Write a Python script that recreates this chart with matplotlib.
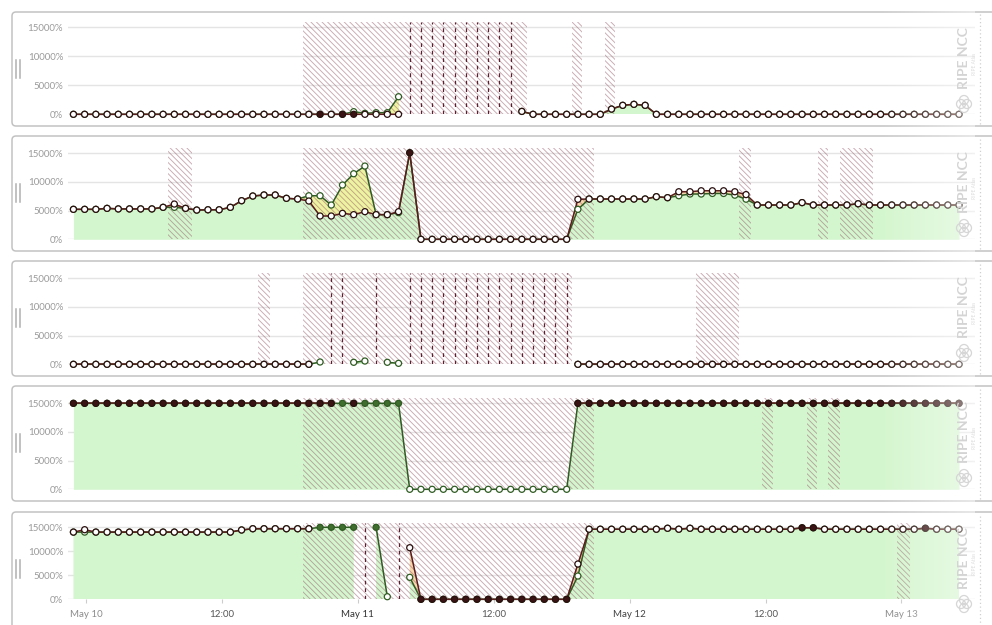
import numpy as np
import matplotlib.pyplot as plt
from matplotlib.patches import FancyBboxPatch, Circle
from matplotlib.lines import Line2D
from matplotlib.transforms import IdentityTransform

plt.rcParams['font.family'] = ['Lato', 'DejaVu Sans']
plt.rcParams['hatch.linewidth'] = 0.65

N = None

# measurement slots -1 .. 78, one sample every ~59.4 min (hours after May 10 00:00)
slots = np.arange(-1, 79)
slot_start_h = -0.13
slot_step_h = 0.99

tick_hours = [0, 12, 24, 36, 48, 60, 72]
tick_labels = ['May 10', '12:00', 'May 11', '12:00', 'May 12', '12:00', 'May 13']
tick_colors = ['#8c8c8c', '#555555', '#333333', '#555555', '#444444', '#555555', '#888888']

y_ticks = [0, 5000, 10000, 15000]

# ---- panel 1
p1_maroon = [0, 0, 0, 0, 0, 0, 0, 0, 0, 0, 0, 0, 0, 0, 0, 0, 0, 0, 0, 0,
             0, 0, 0, 0, 0, 0, 0, 0, 0, 0,
             N, N, N, N, N, N, N, N, N, N,
             500, 0, 0, 0, 0, 0, 0, 0, 900, 1550, 1720, 1550,
             0, 0, 0, 0, 0, 0, 0, 0, 0, 0, 0, 0, 0, 0, 0, 0, 0, 0, 0, 0,
             0, 0, 0, 0, 0, 0, 0, 0]
p1_green = [0, 0, 0, 0, 0, 0, 0, 0, 0, 0, 0, 0, 0, 0, 0, 0, 0, 0, 0, 0,
            0, 0, 0, 0, 0, 450, 170, 280, 280, 3030,
            N, N, N, N, N, N, N, N, N, N,
            500, 0, 0, 0, 0, 0, 0, 0, 900, 1550, 1720, 1550,
            0, 0, 0, 0, 0, 0, 0, 0, 0, 0, 0, 0, 0, 0, 0, 0, 0, 0, 0, 0,
            0, 0, 0, 0, 0, 0, 0, 0]
p1_dark = [21, 23, 24]
p1_green_dark = []
p1_hatch = [(19.5, 39.5), (43.5, 44.4), (46.4, 47.3)]

# ---- panel 2
p2_maroon = [5230, 5230, 5230, 5400, 5300, 5300, 5300, 5300,
             5580, 6150, 5400, 5100, 5150, 5150, 5580, 6730, 7550, 7730, 7730, 7150, 7030,
             6680, 4065, 4065, 4530, 4300, 4820, 4300, 4300, 4820, 15100,
             0, 0, 0, 0, 0, 0, 0, 0, 0, 0, 0, 0, 0, 0,
             6980, 7030, 7030, 7030, 7030, 7030, 7030, 7430, 7260, 8300, 8300, 8470, 8470, 8470, 8300, 7800,
             5980, 5980, 5980, 5980, 6400, 5980, 5980, 5980, 5980, 6200, 5980, 5980, 5980, 5980, 5980,
             5980, 5980, 5980, 5980]
p2_green = [5230, 5230, 5230, 5400, 5300, 5300, 5300, 5300,
            5580, 5580, 5400, 5100, 5150, 5150, 5580, 6730, 7550, 7730, 7730, 7150, 7030,
            7600, 7600, 5980, 9470, 11440, 12780, 4300, 4300, 4650, 15100,
            0, 0, 0, 0, 0, 0, 0, 0, 0, 0, 0, 0, 0, 0,
            5230, 7030, 7030, 7030, 7030, 7030, 7030, 7430, 7260, 7600, 7900, 7900, 8000, 8000, 7700, 7000,
            5980, 5980, 5980, 5980, 6400, 5980, 5980, 5980, 5980, 6200, 5980, 5980, 5980, 5980, 5980,
            5980, 5980, 5980, 5980]
p2_dark = [29]
p2_green_dark = []
p2_hatch = [(7.45, 9.6), (19.5, 45.4), (58.4, 59.4), (65.4, 66.3), (67.4, 70.3)]

# ---- panel 3
p3_maroon = [0, 0, 0, 0, 0, 0, 0, 0, 0, 0, 0, 0, 0, 0, 0, 0, 0, 0, 0, 0, 0, 0,
             N, N, N, N, N, N, N, N, N, N, N, N, N, N, N, N, N, N, N, N, N, N, N,
             0, 0, 0, 0, 0, 0, 0, 0, 0, 0, 0, 0, 0, 0, 0, 0, 0, 0, 0, 0,
             0, 0, 0, 0, 0, 0, 0, 0, 0, 0, 0, 0, 0, 0, 0]
p3_green = [0, 0, 0, 0, 0, 0, 0, 0, 0, 0, 0, 0, 0, 0, 0, 0, 0, 0, 0, 0, 0, 0,
            400, N, N, 350, 570, N, 350, 170,
            N, N, N, N, N, N, N, N, N, N, N, N, N, N, N,
            0, 0, 0, 0, 0, 0, 0, 0, 0, 0, 0, 0, 0, 0, 0, 0, 0, 0, 0, 0,
            0, 0, 0, 0, 0, 0, 0, 0, 0, 0, 0, 0, 0, 0, 0]
p3_dark = []
p3_green_dark = []
p3_hatch = [(15.5, 16.5), (19.5, 43.5), (54.5, 58.4)]

# ---- panel 4
p4_maroon = [15000] * 24 + [N, 15000, N, N, N, N] + [N] * 15 + [15000] * 35
p4_green = [15000] * 30 + [0] * 15 + [15000] * 35
p4_dark = list(range(-1, 79))
p4_green_dark = list(range(-1, 29)) + list(range(44, 79))
p4_hatch = [(19.5, 45.4), (60.4, 61.4), (64.4, 65.3), (66.3, 67.4)]

# ---- panel 5
p5_maroon = [14000, 14500, 14000, 14000, 14000, 14000, 14000, 14000, 14000, 14000, 14000, 14000, 14000,
             14000, 14000, 14440, 14700, 14700, 14700, 14700, 14700, 14700,
             N, N, N, N, N, N, N, N,
             10750, 0, 0, 0, 0, 0, 0, 0, 0, 0, 0, 0, 0, 0, 0,
             7350, 14600, 14600, 14600, 14600, 14600, 14600, 14600, 14800, 14600, 14800,
             14600, 14600, 14600, 14600, 14600, 14600, 14600, 14600, 14600, 14900, 14900,
             14600, 14600, 14600, 14600, 14600, 14600, 14600, 14600, 14600, 14800, 14600, 14600, 14600]
p5_green = [14000, 14000, 14000, 14000, 14000, 14000, 14000, 14000, 14000, 14000, 14000, 14000, 14000,
            14000, 14000, 14440, 14700, 14700, 14700, 14700, 14700, 14700,
            15000, 15000, 15000, 15000, N, 15000, 540, N,
            4580, 0, 0, 0, 0, 0, 0, 0, 0, 0, 0, 0, 0, 0, 0,
            4850, 14600, 14600, 14600, 14600, 14600, 14600, 14600, 14800, 14600, 14800,
            14600, 14600, 14600, 14600, 14600, 14600, 14600, 14600, 14600, 14900, 14900,
            14600, 14600, 14600, 14600, 14600, 14600, 14600, 14600, 14600, 14800, 14600, 14600, 14600]
p5_dark = list(range(30, 44)) + [64, 65, 75]
p5_green_dark = [21, 22, 23, 24, 26]
p5_hatch = [(19.5, 45.4), (72.5, 73.6)]

panels = [
    (p1_maroon, p1_green, p1_dark, p1_green_dark, p1_hatch),
    (p2_maroon, p2_green, p2_dark, p2_green_dark, p2_hatch),
    (p3_maroon, p3_green, p3_dark, p3_green_dark, p3_hatch),
    (p4_maroon, p4_green, p4_dark, p4_green_dark, p4_hatch),
    (p5_maroon, p5_green, p5_dark, p5_green_dark, p5_hatch),
]

# layout in pixels (top-down): panel boxes and plot areas
W, H = 992, 625
boxes = [(12, 126), (136, 251), (261, 376), (386, 501), (512, 640)]
plot_areas = [(21.5, 114.3), (147.6, 239.3), (272.6, 364.3), (397.6, 489.3), (522.5, 599.3)]
ax_left, ax_right = 68, 975

maroon_c = '#5a1c1c'
green_c = '#2f5c22'
dark_face = '#3a1414'
green_face = '#3f6e2e'
fill_green = '#d4f6ce'
fill_yellow = '#eef3a2'
fill_orange = '#f6d6aa'
hatch_c = (0.58, 0.33, 0.40, 0.5)


def to_h(s):
    return slot_start_h + slot_step_h * np.asarray(s, dtype=float)


fig = plt.figure(figsize=(W / 100, H / 100), dpi=100)
px = IdentityTransform()

for i, ((maroon, green, dark, gdark, hatches), (btop, bbot), (atop, abot)) in enumerate(
        zip(panels, boxes, plot_areas)):
    # panel box
    fig.patches.append(FancyBboxPatch((12, H - bbot), 1000, bbot - btop,
                                      boxstyle='round,pad=0,rounding_size=4',
                                      fc='white', ec='#c2c2c2', lw=1.1,
                                      transform=px, zorder=-5))
    fig.add_artist(Line2D([980, 980], [H - bbot + 2, H - btop - 2], transform=px,
                          color='#d0d0d0', lw=0.9, ls=(0, (1, 2)), zorder=-4))
    # drag handle
    hc = H - (btop + 57)
    for xx in (16, 20):
        fig.add_artist(Line2D([xx, xx], [hc - 9, hc + 9], transform=px, color='#b0b0b0', lw=1.1))
    # watermark
    fig.text(964 / W, 1 - (btop + 46) / H, 'RIPE NCC', rotation=90, color='#d4d4d4',
             fontsize=10, fontweight='bold', ha='center', va='center', zorder=20)
    fig.text(974 / W, 1 - (btop + 52) / H, 'RIPE Atlas', rotation=90, color='#dddddd',
             fontsize=3.5, ha='center', va='center', zorder=20)
    cy = H - (btop + 92)
    for dx, dy in [(-3, 0), (3, 0), (0, 4), (0, -4)]:
        fig.patches.append(Circle((964 + dx, cy + dy), 4.5, transform=px, fc='none',
                                  ec='#d6d6d6', lw=0.9, zorder=20))

    ax = fig.add_axes([ax_left / W, 1 - abot / H, (ax_right - ax_left) / W, (abot - atop) / H])
    ax.set_facecolor('none')
    t = to_h(slots)
    m = np.array(maroon, dtype=float)
    g = np.array(green, dtype=float)
    base = np.fmin(m, g)

    ax.fill_between(t, 0, base, color=fill_green, lw=0, zorder=1)
    ax.fill_between(t, m, g, where=g > m, interpolate=True, color=fill_yellow, lw=0, zorder=1)
    ax.fill_between(t, m, g, where=m > g, interpolate=True, color=fill_orange, lw=0, zorder=1)

    for a, b in hatches:
        ax.axvspan(to_h(a), to_h(b), fc='none', ec=hatch_c, hatch='\\\\\\\\\\\\', lw=0, zorder=2)

    # missing samples inside the data range
    both_missing = np.isnan(m) & np.isnan(g)
    for s in slots[both_missing]:
        ax.axvline(to_h(s), color='#5a2030', lw=0.9, ls=(0, (3, 3)), zorder=3)

    ax.plot(t, g, color=green_c, lw=1.1, zorder=4, clip_on=False)
    ax.plot(t, m, color=maroon_c, lw=1.1, zorder=5, clip_on=False)

    gface = [green_face if s in gdark else 'white' for s in slots]
    mface = [dark_face if s in dark else 'white' for s in slots]
    ax.scatter(t, g, s=19, c=gface, edgecolors=green_c, linewidths=0.9, zorder=6, clip_on=False)
    ax.scatter(t, m, s=19, c=mface, edgecolors='#2a0f0f', linewidths=0.9, zorder=7, clip_on=False)

    ax.set_xlim(-1.6, 78.5)
    ax.set_ylim(0, 16000)
    ax.set_yticks(y_ticks)
    ax.set_yticklabels([f'{v}%' for v in y_ticks])
    ax.tick_params(axis='y', length=0, pad=3.5, labelsize=7, labelcolor='#9b9b9b')
    ax.yaxis.grid(True, color='#e4e4e4', lw=1)
    ax.set_axisbelow(True)
    for sp in ax.spines.values():
        sp.set_visible(False)
    if i == 4:
        ax.set_xticks(tick_hours)
        ax.set_xticklabels(tick_labels)
        ax.tick_params(axis='x', length=3, color='#cccccc', labelsize=7, pad=5)
        for lab, col in zip(ax.get_xticklabels(), tick_colors):
            lab.set_color(col)
    else:
        ax.set_xticks([])

# fade toward the right edge
fade = fig.add_axes([880 / W, 0, 95 / W, 1])
grad = np.ones((2, 256, 4))
grad[..., 3] = np.linspace(0, 0.5, 256)
fade.imshow(grad, aspect='auto', extent=(0, 1, 0, 1))
fade.axis('off')
fade.set_zorder(10)

fig.savefig('out.png', dpi=100)
